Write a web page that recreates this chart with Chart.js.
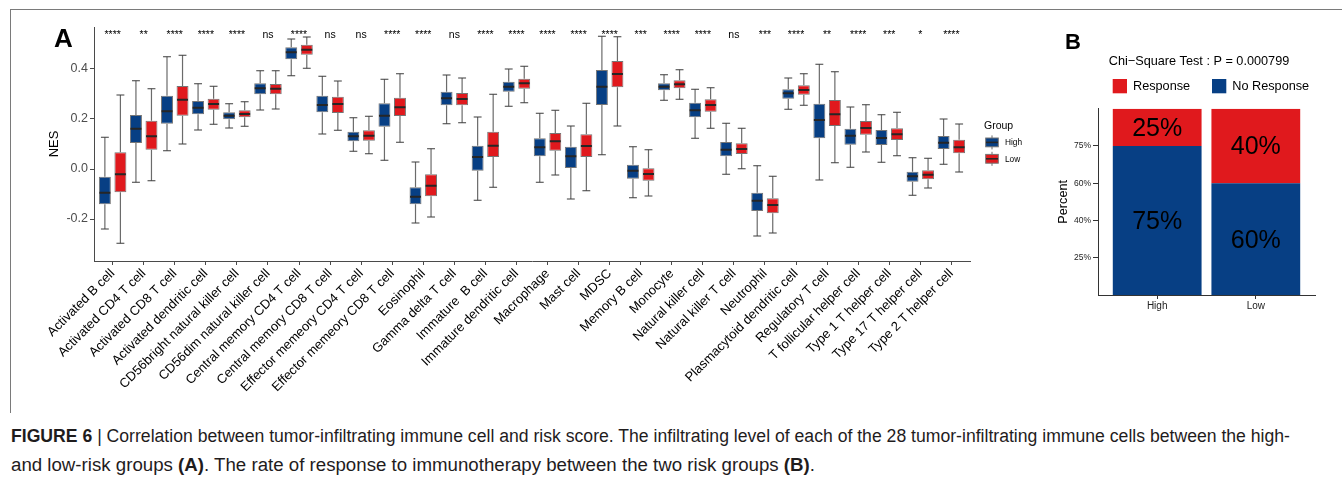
<!DOCTYPE html>
<html lang="en">
<head>
<meta charset="utf-8">
<title>Tumor-infiltrating immune cells and immunotherapy response</title>
<script src="https://cdn.jsdelivr.net/npm/chart.js@4.4.1/dist/chart.umd.min.js"></script>
<style>
  html, body { margin: 0; padding: 0; background: #fff; }
  body { width: 1342px; height: 481px; position: relative; overflow: hidden;
         font-family: "Liberation Sans", Arial, Helvetica, sans-serif; }
  .frame { position: absolute; left: 10px; top: 9px; width: 1340px; height: 403px;
           border-left: 1px solid #7a7a7a; border-top: 1px solid #7a7a7a; }
  canvas { position: absolute; top: 0; }
  #boxCanvas { left: 0; }
  #barCanvas { left: 1040px; }
  .caption { position: absolute; left: 11px; font-size: 18px; line-height: 18px;
             color: #1f1c1d; white-space: nowrap; transform-origin: 0 50%; }
</style>
</head>
<body>
<div class="frame"></div>
<canvas id="boxCanvas" width="1045" height="400"></canvas>
<canvas id="barCanvas" width="302" height="400"></canvas>
<div class="caption" data-width="1279" style="top:427px"><b>FIGURE 6</b> | Correlation between tumor-infiltrating immune cell and risk score. The infiltrating level of each of the 28 tumor-infiltrating immune cells between the high-</div>
<div class="caption" data-width="804" style="top:456px">and low-risk groups <b>(A)</b>. The rate of response to immunotherapy between the two risk groups <b>(B)</b>.</div>

<script>
const FONT = "'Liberation Sans', Arial, Helvetica, sans-serif";
Chart.defaults.font.family = FONT;
Chart.defaults.color = '#000';

// ---- Panel A: ssGSEA scores (NES) of 28 immune cell types by risk group ----
const cellTypes = [
  'Activated B cell', 'Activated CD4 T cell', 'Activated CD8 T cell', 'Activated dendritic cell',
  'CD56bright natural killer cell', 'CD56dim natural killer cell', 'Central memory CD4 T cell',
  'Central memory CD8 T cell', 'Effector memeory CD4 T cell', 'Effector memeory CD8 T cell',
  'Eosinophil', 'Gamma delta T cell', 'Immature  B cell', 'Immature dendritic cell', 'Macrophage',
  'Mast cell', 'MDSC', 'Memory B cell', 'Monocyte', 'Natural killer cell', 'Natural killer T cell',
  'Neutrophil', 'Plasmacytoid dendritic cell', 'Regulatory T cell', 'T follicular helper cell',
  'Type 1 T helper cell', 'Type 17 T helper cell', 'Type 2 T helper cell'
];
const significance = [
  '****', '**', '****', '****', '****', 'ns', '****', 'ns', 'ns', '****', '****', 'ns', '****', '****',
  '****', '****', '****', '***', '****', '****', 'ns', '***', '****', '**', '****', '***', '*', '****'
];
const nesTicks = [-0.2, 0.0, 0.2, 0.4];
const groups = ['High', 'Low'];
const groupColors = ['#073F84', '#E0191D'];

// High-risk group: whisker ends, quartiles and medians
const highMin    = [-0.240, -0.053, 0.073, 0.156, 0.164, 0.236, 0.373, 0.140, 0.071, 0.035, -0.216, 0.181, -0.125, 0.251, -0.053, -0.120, 0.057, -0.115, 0.275, 0.123, -0.021, -0.268, 0.239, -0.044, 0.007, 0.027, -0.105, 0.019];
const highQ1     = [-0.141, 0.104, 0.181, 0.219, 0.199, 0.299, 0.439, 0.227, 0.111, 0.169, -0.141, 0.255, -0.007, 0.309, 0.051, 0.004, 0.256, -0.039, 0.315, 0.207, 0.051, -0.168, 0.281, 0.123, 0.097, 0.096, -0.051, 0.080];
const highMedian = [-0.095, 0.161, 0.231, 0.245, 0.213, 0.323, 0.467, 0.256, 0.131, 0.213, -0.111, 0.283, 0.048, 0.329, 0.087, 0.051, 0.329, -0.007, 0.329, 0.235, 0.077, -0.127, 0.303, 0.196, 0.133, 0.124, -0.029, 0.105];
const highQ3     = [-0.031, 0.216, 0.293, 0.272, 0.227, 0.343, 0.487, 0.293, 0.149, 0.263, -0.073, 0.309, 0.093, 0.349, 0.123, 0.089, 0.396, 0.017, 0.343, 0.265, 0.108, -0.095, 0.319, 0.261, 0.161, 0.156, -0.011, 0.132];
const highMax    = [0.127, 0.353, 0.449, 0.341, 0.261, 0.393, 0.520, 0.371, 0.205, 0.359, 0.028, 0.376, 0.208, 0.400, 0.223, 0.172, 0.531, 0.089, 0.377, 0.319, 0.183, 0.013, 0.364, 0.419, 0.248, 0.217, 0.045, 0.200];

// Low-risk group
const lowMin    = [-0.297, -0.047, 0.100, 0.179, 0.171, 0.240, 0.403, 0.155, 0.061, 0.107, -0.192, 0.185, -0.073, 0.265, -0.024, -0.087, 0.172, -0.108, 0.279, 0.163, 0.001, -0.256, 0.255, 0.025, 0.068, 0.053, -0.076, -0.012];
const lowQ1     = [-0.093, 0.077, 0.213, 0.237, 0.207, 0.299, 0.457, 0.224, 0.113, 0.212, -0.109, 0.255, 0.048, 0.321, 0.073, 0.048, 0.327, -0.047, 0.323, 0.229, 0.060, -0.177, 0.297, 0.172, 0.137, 0.116, -0.041, 0.063];
const lowMedian = [-0.021, 0.131, 0.277, 0.260, 0.220, 0.321, 0.477, 0.260, 0.133, 0.247, -0.067, 0.280, 0.093, 0.343, 0.111, 0.092, 0.380, -0.020, 0.339, 0.256, 0.080, -0.144, 0.316, 0.219, 0.164, 0.139, -0.023, 0.087];
const lowQ3     = [0.067, 0.193, 0.332, 0.281, 0.235, 0.340, 0.497, 0.289, 0.155, 0.285, -0.021, 0.304, 0.149, 0.361, 0.144, 0.139, 0.432, 0.003, 0.355, 0.279, 0.103, -0.117, 0.335, 0.276, 0.192, 0.163, -0.005, 0.117];
const lowMax    = [0.296, 0.321, 0.455, 0.331, 0.269, 0.393, 0.528, 0.352, 0.211, 0.381, 0.081, 0.364, 0.299, 0.411, 0.235, 0.263, 0.529, 0.077, 0.397, 0.325, 0.163, -0.029, 0.381, 0.389, 0.257, 0.227, 0.043, 0.180];

// ---- Panel B: immunotherapy response by risk group ----
const responseGroups = ['High', 'Low'];
const noResponsePct = [75, 60];
const responsePct = [25, 40];
const percentTicks = [25, 40, 60, 75];
const chiSquareP = '0.000799';

// Caption lines are set to the column width of the figure text.
document.querySelectorAll('.caption').forEach(el => {
  const w = el.getBoundingClientRect().width;
  el.style.transform = `scaleX(${(+el.dataset.width / w).toFixed(4)})`;
});

const boxStats = {
  High: { min: highMin, q1: highQ1, med: highMedian, q3: highQ3, max: highMax },
  Low:  { min: lowMin,  q1: lowQ1,  med: lowMedian,  q3: lowQ3,  max: lowMax }
};

// Boxes are floating bars (Q1..Q3); whiskers and medians are added from the same scales.
const boxDatasets = groups.map((g, k) => {
  const s = boxStats[g];
  return {
    label: g,
    data: cellTypes.map((_, i) => ({ x: i + 1, y: [s.q1[i], s.q3[i]] })),
    backgroundColor: groupColors[k],
    borderColor: '#767676',
    borderWidth: 1,
    borderSkipped: false,
    stats: s
  };
});

const boxWhiskers = {
  id: 'boxWhiskers',
  beforeDatasetsDraw(chart) {
    const { ctx } = chart;
    const y = chart.scales.y;
    ctx.save();
    chart.data.datasets.forEach((ds, d) => {
      chart.getDatasetMeta(d).data.forEach((bar, i) => {
        const { x, width } = bar.getProps(['x', 'width'], true);
        const half = width * 0.33;
        const yMax = y.getPixelForValue(ds.stats.max[i]);
        const yMin = y.getPixelForValue(ds.stats.min[i]);
        const yQ3 = y.getPixelForValue(ds.stats.q3[i]);
        const yQ1 = y.getPixelForValue(ds.stats.q1[i]);
        ctx.lineWidth = 1.2;
        ctx.strokeStyle = '#6b6b6b';
        ctx.beginPath();
        ctx.moveTo(x, yMax); ctx.lineTo(x, yQ3);
        ctx.moveTo(x, yQ1); ctx.lineTo(x, yMin);
        ctx.stroke();
        ctx.strokeStyle = '#3c3c3c';
        ctx.beginPath();
        ctx.moveTo(x - half, yMax); ctx.lineTo(x + half, yMax);
        ctx.moveTo(x - half, yMin); ctx.lineTo(x + half, yMin);
        ctx.stroke();
      });
    });
    ctx.restore();
  },
  afterDatasetsDraw(chart) {
    const { ctx } = chart;
    const y = chart.scales.y;
    ctx.save();
    ctx.strokeStyle = '#262626';
    ctx.lineWidth = 2;
    chart.data.datasets.forEach((ds, d) => {
      chart.getDatasetMeta(d).data.forEach((bar, i) => {
        const { x, width } = bar.getProps(['x', 'width'], true);
        const ym = y.getPixelForValue(ds.stats.med[i]);
        ctx.beginPath();
        ctx.moveTo(x - width / 2 + 0.5, ym);
        ctx.lineTo(x + width / 2 - 0.5, ym);
        ctx.stroke();
      });
    });
    ctx.restore();
  }
};

const boxAnnotations = {
  id: 'boxAnnotations',
  afterDraw(chart) {
    const { ctx, chartArea } = chart;
    const xs = chart.scales.x;
    ctx.save();
    // panel letter
    ctx.fillStyle = '#000';
    ctx.font = `bold 26px ${FONT}`;
    ctx.textAlign = 'left';
    ctx.textBaseline = 'alphabetic';
    ctx.fillText('A', 54, 47);
    // significance marks above each pair
    ctx.font = `10.5px ${FONT}`;
    ctx.textAlign = 'center';
    significance.forEach((s, i) => {
      ctx.fillText(s, xs.getPixelForValue(i + 1), chartArea.top + 10.5);
    });
    // group legend with box-plot keys
    const lx = chartArea.right + 14;
    ctx.textAlign = 'left';
    ctx.textBaseline = 'middle';
    ctx.font = `10.5px ${FONT}`;
    ctx.fillText('Group', lx, 126);
    groups.forEach((g, k) => {
      const cy = 142.4 + k * 16.4;
      const kx = lx + 8;
      ctx.strokeStyle = '#6b6b6b';
      ctx.lineWidth = 1;
      ctx.beginPath();
      ctx.moveTo(kx, cy - 7); ctx.lineTo(kx, cy + 7);
      ctx.stroke();
      ctx.fillStyle = groupColors[k];
      ctx.fillRect(kx - 6.3, cy - 4.4, 12.6, 8.8);
      ctx.strokeStyle = '#767676';
      ctx.strokeRect(kx - 6.3, cy - 4.4, 12.6, 8.8);
      ctx.strokeStyle = '#262626';
      ctx.lineWidth = 1.6;
      ctx.beginPath();
      ctx.moveTo(kx - 6, cy); ctx.lineTo(kx + 6, cy);
      ctx.stroke();
      ctx.fillStyle = '#000';
      ctx.font = `8.3px ${FONT}`;
      ctx.fillText(g, lx + 21, cy + 0.5);
    });
    ctx.restore();
  }
};

new Chart(document.getElementById('boxCanvas'), {
  type: 'bar',
  data: { datasets: boxDatasets },
  options: {
    responsive: false,
    animation: false,
    layout: { padding: { top: 27, right: 75, left: 0, bottom: 0 } },
    datasets: { bar: { categoryPercentage: 1.0, barPercentage: 0.77 } },
    plugins: { legend: { display: false }, tooltip: { enabled: false } },
    scales: {
      x: {
        type: 'linear', min: 0.4, max: 28.6, bounds: 'data', offset: false,
        afterBuildTicks: s => { s.ticks = cellTypes.map((_, i) => ({ value: i + 1 })); },
        afterFit: s => { s.height = 139; },
        ticks: {
          autoSkip: false, minRotation: 45, maxRotation: 45, padding: 1,
          callback: (v, i) => cellTypes[i], color: '#000', font: { size: 13 }
        },
        grid: { drawOnChartArea: false, drawTicks: true, tickLength: 4, color: '#4a4a4a', offset: false },
        border: { color: '#4a4a4a', width: 1 }
      },
      y: {
        min: -0.368, max: 0.568, bounds: 'data',
        afterBuildTicks: s => { s.ticks = nesTicks.map(v => ({ value: v })); },
        afterFit: s => { s.width = 94; },
        ticks: { callback: v => v.toFixed(1), color: '#4d4d4d', font: { size: 12.5 }, padding: 2 },
        grid: { drawOnChartArea: false, drawTicks: true, tickLength: 4, color: '#4a4a4a' },
        border: { color: '#4a4a4a', width: 1 },
        title: { display: true, text: 'NES', color: '#000', font: { size: 13 }, padding: { top: 47, bottom: 0 } }
      }
    }
  },
  plugins: [boxWhiskers, boxAnnotations]
});

// Percent axis whose labelled ticks are evenly spaced between 0% and 100%.
class EvenTickScale extends Chart.LinearScale {
  static id = 'eventick';
  static defaults = {};
  anchors() { return [this.min, ...percentTicks, this.max]; }
  getPixelForValue(value) {
    const a = this.anchors();
    const n = a.length - 1;
    let k = 0;
    while (k < n - 1 && value > a[k + 1]) k++;
    const frac = (value - a[k]) / (a[k + 1] - a[k]);
    return this.getPixelForDecimal((k + frac) / n);
  }
  getValueForPixel(pixel) {
    const a = this.anchors();
    const n = a.length - 1;
    const d = Math.min(Math.max(this.getDecimalForPixel(pixel), 0), 1) * n;
    const k = Math.min(Math.floor(d), n - 1);
    return a[k] + (d - k) * (a[k + 1] - a[k]);
  }
}
Chart.register(EvenTickScale);

const responseColors = { 'No Response': '#073F84', 'Response': '#E0191D' };

const barAnnotations = {
  id: 'barAnnotations',
  afterDatasetsDraw(chart) {
    const { ctx } = chart;
    ctx.save();
    ctx.fillStyle = '#000';
    ctx.font = `25px ${FONT}`;
    ctx.textAlign = 'center';
    ctx.textBaseline = 'middle';
    chart.data.datasets.forEach((ds, d) => {
      chart.getDatasetMeta(d).data.forEach((bar, i) => {
        const { x, y, base } = bar.getProps(['x', 'y', 'base'], true);
        ctx.fillText(ds.data[i].y + '%', x, (y + base) / 2 + 1.5);
      });
    });
    ctx.restore();
  },
  afterDraw(chart) {
    const { ctx, chartArea } = chart;
    ctx.save();
    ctx.fillStyle = '#000';
    ctx.font = `bold 22px ${FONT}`;
    ctx.textAlign = 'left';
    ctx.textBaseline = 'alphabetic';
    ctx.fillText('B', 25, 49);
    // test title
    ctx.font = `12.7px ${FONT}`;
    ctx.textAlign = 'center';
    ctx.textBaseline = 'middle';
    ctx.fillText('Chi\u2212Square Test : P = ' + chiSquareP, chartArea.left + 101, 61);
    // legend: Response first, then No Response
    ctx.textAlign = 'left';
    const items = ['Response', 'No Response'];
    const itemX = [chartArea.left + 14.7, chartArea.left + 114];
    items.forEach((label, k) => {
      ctx.fillStyle = responseColors[label];
      ctx.fillRect(itemX[k], 79, 14.3, 14.3);
      ctx.fillStyle = '#000';
      ctx.fillText(label, itemX[k] + 20.3, 86.5);
    });
    ctx.restore();
  }
};

new Chart(document.getElementById('barCanvas'), {
  type: 'bar',
  data: {
    datasets: [
      { label: 'No Response', data: responseGroups.map((_, i) => ({ x: i + 1, y: noResponsePct[i] })),
        backgroundColor: responseColors['No Response'] },
      { label: 'Response', data: responseGroups.map((_, i) => ({ x: i + 1, y: responsePct[i] })),
        backgroundColor: responseColors['Response'] }
    ]
  },
  options: {
    responsive: false,
    animation: false,
    layout: { padding: { top: 108.7, right: 27, left: 0, bottom: 0 } },
    datasets: { bar: { categoryPercentage: 0.9, barPercentage: 1, borderWidth: 0 } },
    plugins: { legend: { display: false }, tooltip: { enabled: false } },
    scales: {
      x: {
        type: 'linear', stacked: true, min: 0.4, max: 2.6, bounds: 'data', offset: false,
        afterBuildTicks: s => { s.ticks = responseGroups.map((_, i) => ({ value: i + 1 })); },
        afterFit: s => { s.height = 105; },
        ticks: { autoSkip: false, maxRotation: 0, padding: 1, callback: (v, i) => responseGroups[i],
                 color: '#222', font: { size: 10 } },
        grid: { drawOnChartArea: false, tickLength: 4, color: '#333', offset: false },
        border: { color: '#333', width: 1 }
      },
      y: {
        type: 'eventick', stacked: true, min: 0, max: 100, bounds: 'data',
        afterBuildTicks: s => { s.ticks = percentTicks.map(v => ({ value: v })); },
        afterFit: s => { s.width = 58; },
        ticks: { callback: v => v + '%', color: '#222', font: { size: 8.5 }, padding: 2 },
        grid: { drawOnChartArea: false, tickLength: 5, color: '#333' },
        border: { color: '#333', width: 1 },
        title: { display: true, text: 'Percent', color: '#000', font: { size: 12.7 }, padding: { top: 15.4, bottom: 0 } }
      }
    }
  },
  plugins: [barAnnotations]
});
</script>
</body>
</html>
